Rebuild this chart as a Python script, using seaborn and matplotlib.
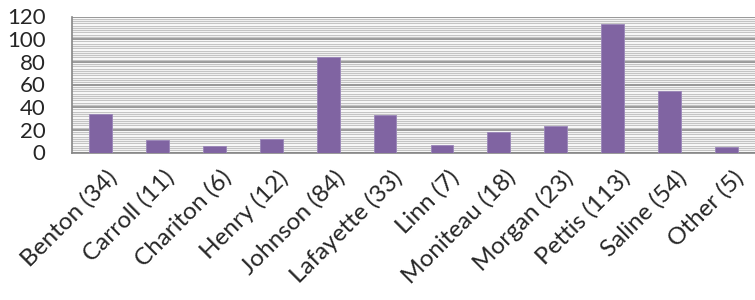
import matplotlib
matplotlib.use("Agg")
import matplotlib.pyplot as plt
import matplotlib.transforms as mtransforms
import seaborn as sns
import pandas as pd
from matplotlib.ticker import MultipleLocator

# Data
counties = ["Benton", "Carroll", "Chariton", "Henry", "Johnson", "Lafayette",
            "Linn", "Moniteau", "Morgan", "Pettis", "Saline", "Other"]
counts = [34, 11, 6, 12, 84, 33, 7, 18, 23, 113, 54, 5]
labels = [f"{c} ({n})" for c, n in zip(counties, counts)]

sns.set_theme(style="white")
plt.rcParams["font.family"] = ["Lato", "DejaVu Sans"]

df = pd.DataFrame({"label": labels, "count": counts})

fig = plt.figure(figsize=(7.55, 3.0), dpi=100)
ax = fig.add_axes([72 / 755, 1 - 152.5 / 300, (755 - 72) / 755, (152.5 - 16.5) / 300])

sns.barplot(data=df, x="label", y="count", color="#8064A2", width=0.4,
            edgecolor="#9A86B8", linewidth=0.6, saturation=1, ax=ax, zorder=3)

ax.set_ylim(0, 120)
ax.set_xlim(-0.5, len(labels) - 0.5)
ax.yaxis.set_major_locator(MultipleLocator(20))
ax.yaxis.set_minor_locator(MultipleLocator(2))
ax.grid(which="major", axis="y", color="#868686", linewidth=1.2, zorder=0)
ax.grid(which="minor", axis="y", color="#C4C4C4", linewidth=0.9, zorder=0)
ax.set_axisbelow(True)

for side in ["top", "right"]:
    ax.spines[side].set_visible(False)
for side in ["left", "bottom"]:
    ax.spines[side].set_color("#868686")
    ax.spines[side].set_linewidth(1.2)

ax.set_xlabel("")
ax.set_ylabel("")

# ticks on x between categories
ax.set_xticks([i + 0.5 for i in range(len(labels) - 1)] + [-0.5], minor=True)
ax.tick_params(axis="x", which="major", length=0, labelsize=17.5, pad=10)
ax.tick_params(axis="x", which="minor", length=4.3, width=1.2, color="#868686", direction="out")
ax.tick_params(axis="y", which="major", length=6, width=1.2, color="#868686",
               labelsize=16, pad=13, direction="out")
ax.tick_params(axis="y", which="minor", length=0)
offset = mtransforms.ScaledTranslation(6 / 100, 0, fig.dpi_scale_trans)
for lbl in ax.get_xticklabels():
    lbl.set_rotation(45)
    lbl.set_ha("right")
    lbl.set_rotation_mode("anchor")
    lbl.set_transform(lbl.get_transform() + offset)

fig.savefig("out.png", dpi=100)
